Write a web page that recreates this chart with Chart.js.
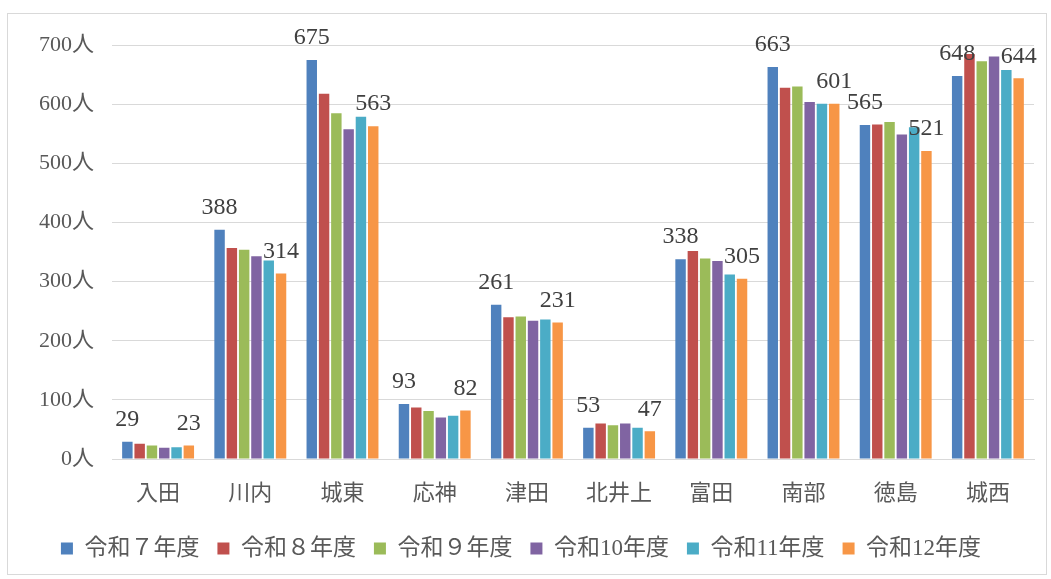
<!DOCTYPE html>
<html>
<head>
<meta charset="utf-8">
<script src="https://cdn.jsdelivr.net/npm/chart.js@4"></script>
<style>
  html, body { margin: 0; padding: 0; background: #fff; }
  #box {
    position: absolute; left: 7px; top: 13px;
    width: 1038px; height: 560px;
    border: 1px solid #d9d9d9;
  }
</style>
</head>
<body>
<div id="box"><canvas id="chart" width="1038" height="560"></canvas></div>
<script>

// =======================
// DATA
// =======================

const districts = ["入田", "川内", "城東", "応神", "津田", "北井上", "富田", "南部", "徳島", "城西"];
const yTicks = [0, 100, 200, 300, 400, 500, 600, 700];

const r7  = [29, 388, 675, 93, 261, 53, 338, 663, 565, 648];
const r8  = [26, 357, 618, 87, 240, 60, 352, 628, 566, 685];
const r9  = [23, 354, 585, 81, 241, 57, 339, 630, 570, 673];
const r10 = [19, 343, 558, 70, 234, 60, 335, 604, 549, 681];
const r11 = [20, 336, 579, 73, 236, 53, 312, 601, 561, 658];
const r12 = [23, 314, 563, 82, 231, 47, 305, 601, 521, 644];

const seriesNames = ["令和７年度", "令和８年度", "令和９年度", "令和10年度", "令和11年度", "令和12年度"];
const colors = ["#4f81bd", "#c0504d", "#9bbb59", "#8064a2", "#4bacc6", "#f79646"];

const FONT = "'Liberation Serif', 'Noto Sans CJK JP', serif";

// =======================
// LABELS (first and last series only)
// =======================

const barLabels = {
  id: "barLabels",
  afterDatasetsDraw(chart) {
    const ctx = chart.ctx;
    ctx.save();
    ctx.font = "24px " + FONT;
    ctx.fillStyle = "#404040";
    ctx.textAlign = "center";
    ctx.textBaseline = "bottom";
    [0, 5].forEach(i => {
      const meta = chart.getDatasetMeta(i);
      meta.data.forEach((bar, j) => {
        ctx.fillText(chart.data.datasets[i].data[j], bar.x, bar.y - 10);
      });
    });
    ctx.restore();
  }
};

// =======================
// CHART
// =======================

const all = [r7, r8, r9, r10, r11, r12];

new Chart(document.getElementById("chart"), {
  type: "bar",
  data: {
    labels: districts,
    datasets: all.map((d, i) => ({
      label: seriesNames[i],
      data: d,
      backgroundColor: colors[i],
      borderWidth: 0,
      barPercentage: 0.85,
      categoryPercentage: 0.8
    }))
  },
  options: {
    responsive: false,
    animation: false,
    layout: { padding: { top: 29, right: 12, left: 0, bottom: 4 } },
    plugins: {
      legend: {
        position: "bottom",
        labels: {
          boxWidth: 12,
          boxHeight: 12,
          padding: 18,
          color: "#595959",
          font: { family: FONT, size: 23 }
        }
      },
      tooltip: { enabled: false }
    },
    scales: {
      x: {
        grid: { display: false },
        border: { color: "#d9d9d9" },
        ticks: { color: "#595959", padding: 14, font: { family: FONT, size: 22 } },
        afterFit: s => { s.height = 60; }
      },
      y: {
        min: 0,
        max: 700,
        afterBuildTicks: s => { s.ticks = yTicks.map(v => ({ value: v })); },
        grid: { color: "#d9d9d9", drawTicks: false },
        border: { display: false },
        ticks: {
          color: "#595959",
          padding: 18,
          font: { family: FONT, size: 22 },
          callback: v => v + "人"
        },
        afterFit: s => { s.width = 104; }
      }
    }
  },
  plugins: [barLabels]
});

</script>
</body>
</html>
